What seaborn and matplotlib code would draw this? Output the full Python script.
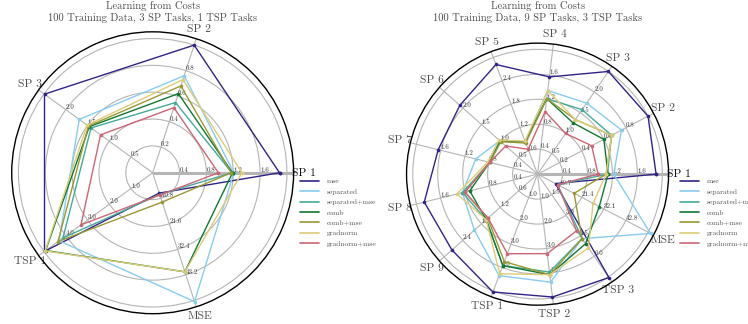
import numpy as np
import pandas as pd
import matplotlib
matplotlib.use("Agg")
import matplotlib.pyplot as plt
import seaborn as sns

sns.set_style("white")
plt.rcParams["font.family"] = ["cmr10", "DejaVu Serif"]
plt.rcParams["axes.formatter.use_mathtext"] = True

# ---- data -----------------------------------------------------------------
methods = ["mse", "separated", "separated+mse", "comb", "comb+mse",
           "gradnorm", "gradnorm+mse"]
colors = ["#332288", "#88CCEE", "#44AA99", "#117733", "#999933",
          "#DDCC77", "#CC6677"]

# small setting: 3 SP tasks, 1 TSP task
cats_a = ["SP 1", "SP 2", "SP 3", "TSP 1", "MSE"]
max_a = [2.0, 1.0, 2.5, 5.0, 54.0]
mse_a = [1.89, 1.00, 2.49, 4.98, 8.6]
separated_a = [1.21, 0.76, 1.69, 4.31, 54.5]
separated_mse_a = [1.18, 0.55, 1.42, 4.13, 9.2]
comb_a = [1.19, 0.62, 1.46, 4.93, 41.9]
comb_mse_a = [1.17, 0.68, 1.48, 4.36, 12.4]
gradnorm_a = [1.33, 0.73, 1.51, 4.95, 41.9]
gradnorm_mse_a = [0.98, 0.51, 1.20, 3.30, 9.4]

# large setting: 9 SP tasks, 3 TSP tasks
cats_b = ["SP 1", "SP 2", "SP 3", "SP 4", "SP 5", "SP 6", "SP 7", "SP 8",
          "SP 9", "TSP 1", "TSP 2", "TSP 3", "MSE"]
max_b = [2.0, 1.0, 2.5, 2.0, 3.0, 2.5, 2.0, 2.0, 3.0, 5.0, 5.0, 7.5, 53.5]
mse_b = [1.90, 1.00, 2.50, 1.57, 2.82, 2.08, 1.64, 1.87, 2.75, 5.05, 4.96, 7.55, 8.7]
separated_b = [1.22, 0.76, 1.73, 1.35, 0.83, 1.01, 1.02, 1.24, 2.03, 4.35, 4.36, 4.71, 54.7]
separated_mse_b = [1.12, 0.67, 1.57, 1.22, 0.83, 1.01, 0.79, 1.24, 1.65, 3.92, 3.95, 4.71, 9.7]
comb_b = [1.13, 0.60, 1.25, 1.22, 0.83, 1.00, 0.79, 1.12, 1.65, 3.92, 4.06, 5.08, 29.9]
comb_mse_b = [1.10, 0.67, 1.33, 1.22, 0.80, 0.98, 0.79, 1.20, 1.60, 3.75, 4.06, 4.71, 17.7]
gradnorm_b = [1.10, 0.67, 1.33, 1.35, 0.85, 1.03, 0.82, 1.33, 1.65, 4.27, 4.06, 5.38, 26.9]
gradnorm_mse_b = [0.97, 0.49, 0.99, 1.01, 0.64, 0.85, 0.79, 1.20, 1.59, 3.41, 3.21, 4.13, 9.7]

series_a = [mse_a, separated_a, separated_mse_a, comb_a, comb_mse_a,
            gradnorm_a, gradnorm_mse_a]
series_b = [mse_b, separated_b, separated_mse_b, comb_b, comb_mse_b,
            gradnorm_b, gradnorm_mse_b]

titles = ["Learning from Costs\n100 Training Data, 3 SP Tasks, 1 TSP Tasks",
          "Learning from Costs\n100 Training Data, 9 SP Tasks, 3 TSP Tasks"]

TEXT = "#4d4d4d"
GRID = "#b5b5b5"
LEVELS = 5
RMAX = 1.05


def radar(ax, cats, maxima, series):
    n = len(cats)
    theta = np.linspace(0, 2 * np.pi, n, endpoint=False)
    frames = []
    for name, vals in zip(methods, series):
        r = np.asarray(vals) / np.asarray(maxima)
        frames.append(pd.DataFrame({
            "theta": np.append(theta, theta[0]),
            "r": np.append(r, r[0]),
            "method": name,
        }))
    df = pd.concat(frames, ignore_index=True)

    # grid: circles and spokes
    ax.set_ylim(0, RMAX)
    ax.set_rgrids(np.linspace(1 / LEVELS, 1, LEVELS), labels=[""] * LEVELS)
    ax.set_thetagrids(np.degrees(theta), labels=cats)
    ax.grid(True, color=GRID, linewidth=0.8)
    ax.plot([0, 0], [0, RMAX], color=GRID, linewidth=2.2, zorder=1,
            solid_capstyle="butt")
    ax.tick_params(axis="x", labelsize=8.3, labelcolor=TEXT, pad=-3)
    for lab in ax.get_xticklabels():
        if lab.get_text() == "SP 1":
            lab.set_color("#111111")
    ax.spines["polar"].set_color("black")
    ax.spines["polar"].set_linewidth(1.0)

    sns.lineplot(data=df, x="theta", y="r", hue="method", hue_order=methods,
                 palette=colors, units="method", estimator=None, sort=False,
                 marker="o", markersize=2.6, markeredgewidth=0, linewidth=1.0,
                 legend=False, ax=ax, zorder=3)
    ax.set_xlabel("")
    ax.set_ylabel("")

    # per-spoke scale labels
    for t, m in zip(theta, maxima):
        for k in range(1, LEVELS):
            ax.text(t, k / LEVELS, f"{m * k / LEVELS:.1f}", ha="left",
                    va="bottom", fontsize=5.0, color="#333333", zorder=2)


fig = plt.figure(figsize=(7.48, 3.24), dpi=100)
ax1 = fig.add_axes([0.0156, 0.0318, 0.377, 0.870], polar=True)
ax2 = fig.add_axes([0.5435, 0.0580, 0.3503, 0.809], polar=True)
radar(ax1, cats_a, max_a, series_a)
radar(ax2, cats_b, max_b, series_b)

for xc, ttl in zip((153 / 748, 538 / 748), titles):
    fig.text(xc, 1 - 1.0 / 324, ttl, ha="center", va="top", fontsize=7.6,
             color=TEXT, linespacing=1.2)

handles = [plt.Line2D([], [], color=c, linewidth=1.2) for c in colors]
for x0 in (0.401, 0.909):
    fig.legend(handles, methods, loc="upper left", bbox_to_anchor=(x0, 0.45),
               frameon=False, fontsize=5.4, handlelength=2.6,
               handletextpad=1.0, labelspacing=0.55, labelcolor=TEXT,
               borderaxespad=0, borderpad=0)

fig.savefig("out.png", dpi=100)
